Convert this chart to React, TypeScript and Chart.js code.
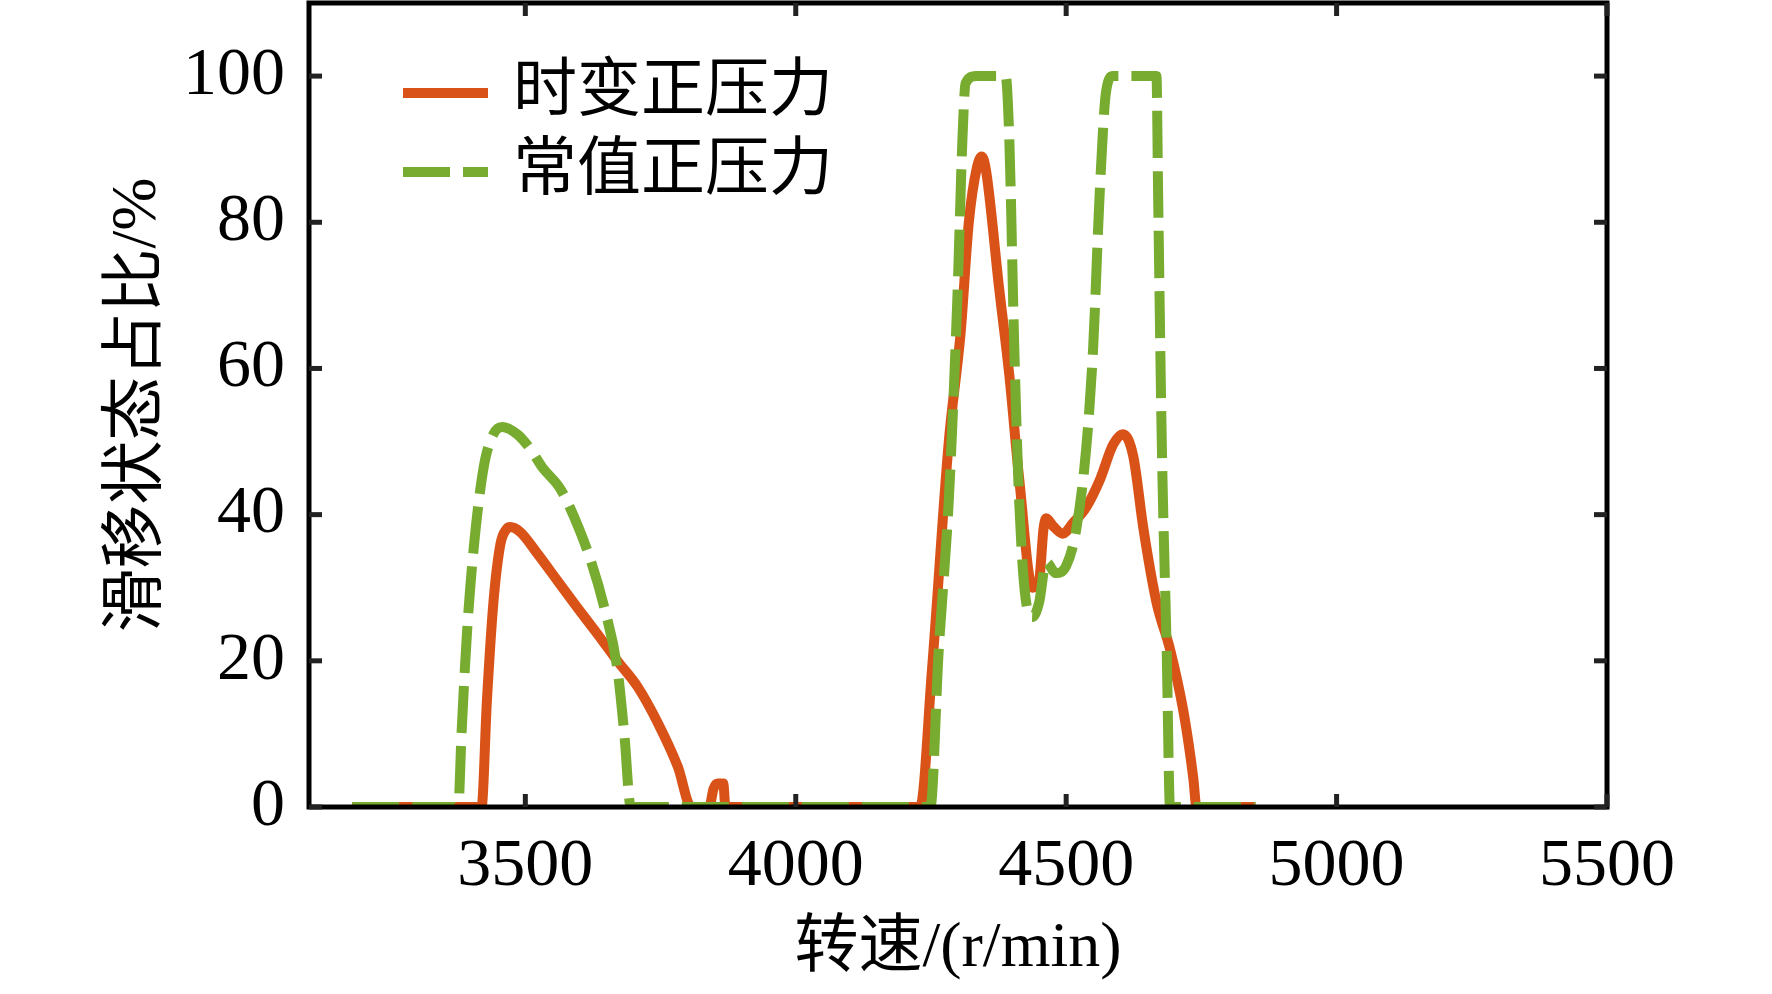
import React, { useEffect, useRef } from "react";
import { Chart, registerables } from "chart.js";

Chart.register(...registerables);

// 时变正压力
const speedVarying = [
  3180, 3419, 3429, 3441, 3454, 3465, 3472, 3491, 3522, 3559, 3596, 3633, 3670, 3708, 3745, 3782, 3807,
  3840, 3848, 3856, 3866, 3870, 4230, 4252, 4283, 4305, 4320, 4335, 4344, 4352, 4376, 4395, 4413, 4438,
  4450, 4458, 4463, 4475, 4494, 4512, 4537, 4562, 4587, 4605, 4624, 4643, 4667, 4692, 4717, 4735, 4741, 4850,
];
const ratioVarying = [
  0, 0, 14.6, 28, 36, 38, 38.3, 37.6, 34.7, 31, 27.3, 23.7, 20, 16.4, 11.5, 5.5, 0,
  0, 2.5, 3.2, 3.2, 0, 0, 18.9, 50, 65, 80, 87.5, 89, 87, 71, 59, 45, 30,
  31, 38, 39.5, 38.5, 37.4, 38.8, 41, 44.7, 49.6, 51, 48, 38, 28, 21.6, 13, 4, 0, 0,
];

// 常值正压力
const speedConstant = [
  3180, 3376, 3382, 3392, 3404, 3423, 3441, 3457, 3485, 3509, 3531, 3565, 3590, 3621, 3646, 3670, 3683, 3695,
  4249, 4264, 4283, 4299, 4308, 4314, 4333, 4388, 4395, 4404, 4413, 4426, 4438, 4450, 4463, 4481, 4500,
  4518, 4537, 4550, 4562, 4574, 4587, 4667, 4670, 4677, 4686, 4692, 4850,
];
const ratioConstant = [
  0, 0, 10, 23.7, 35, 46.5, 51, 52, 51, 49, 46.5, 43.5, 39.7, 33.7, 27.3, 19, 10, 0,
  0, 21, 42, 70, 91, 99, 100, 100, 91, 63, 42, 28, 26, 28, 33.5, 32, 33,
  37.7, 49, 63, 84, 98, 100, 100, 84, 49, 21, 0, 0,
];

const xTicks = [3500, 4000, 4500, 5000, 5500];
const yTicks = [0, 20, 40, 60, 80, 100];
const seriesNames = ["时变正压力", "常值正压力"];

const ORANGE = "#D95319";
const GREEN = "#77AC30";
const FONT = "'Liberation Serif', 'Noto Sans CJK SC', serif";

const framePlugin = {
  id: "frame",
  afterDatasetsDraw(chart: any) {
    const { ctx, chartArea: a, scales } = chart;
    const seg = (x1: number, y1: number, x2: number, y2: number) => {
      ctx.beginPath();
      ctx.moveTo(x1, y1);
      ctx.lineTo(x2, y2);
      ctx.stroke();
    };
    ctx.save();
    ctx.strokeStyle = "#000";
    ctx.lineWidth = 5;
    ctx.strokeRect(a.left, a.top, a.right - a.left, a.bottom - a.top);

    // inward ticks on all four sides
    ctx.strokeStyle = "#222";
    const t = 13;
    xTicks.forEach((v) => {
      const px = scales.x.getPixelForValue(v);
      seg(px, a.bottom, px, a.bottom - t);
      seg(px, a.top, px, a.top + t);
    });
    yTicks.forEach((v) => {
      const py = scales.y.getPixelForValue(v);
      seg(a.left, py, a.left + t, py);
      seg(a.right, py, a.right - t, py);
    });

    // legend in the upper left corner
    const x0 = a.left + 94;
    const x1 = a.left + 179;
    const rows = [a.top + 90, a.top + 169];
    ctx.lineWidth = 10;
    ctx.strokeStyle = ORANGE;
    seg(x0, rows[0], x1, rows[0]);
    ctx.strokeStyle = GREEN;
    ctx.setLineDash([47, 13]);
    seg(x0, rows[1], x1, rows[1]);
    ctx.setLineDash([]);
    ctx.fillStyle = "#000";
    ctx.font = `64px ${FONT}`;
    ctx.textBaseline = "middle";
    ctx.textAlign = "left";
    ctx.fillText(seriesNames[0], a.left + 204, rows[0]);
    ctx.fillText(seriesNames[1], a.left + 204, rows[1]);
    ctx.restore();
  },
};

const App = () => {
  const chartRef = useRef<HTMLCanvasElement>(null);

  useEffect(() => {
    document.body.style.margin = "0";
    const ctx = chartRef.current!.getContext("2d")!;
    const font = { family: FONT, size: 64 };
    const tickFont = { family: FONT, size: 68 };
    const myChart = new Chart(ctx, {
      type: "line",
      data: {
        datasets: [
          {
            label: seriesNames[0],
            data: speedVarying.map((x, i) => ({ x, y: ratioVarying[i] })),
            borderColor: ORANGE,
            borderWidth: 10,
            pointRadius: 0,
            cubicInterpolationMode: "monotone",
            order: 2,
          },
          {
            label: seriesNames[1],
            data: speedConstant.map((x, i) => ({ x, y: ratioConstant[i] })),
            borderColor: GREEN,
            borderWidth: 10,
            borderDash: [47, 13],
            pointRadius: 0,
            cubicInterpolationMode: "monotone",
            order: 1,
          },
        ],
      },
      options: {
        animation: false,
        responsive: false,
        layout: { padding: { left: 0, right: 165, top: 3, bottom: 0 } },
        plugins: {
          legend: { display: false },
          tooltip: { enabled: false },
        },
        scales: {
          x: {
            type: "linear",
            min: 3100,
            max: 5500,
            afterBuildTicks: (s: any) => {
              s.ticks = xTicks.map((v) => ({ value: v }));
            },
            afterFit: (s: any) => {
              s.height = 187;
              s.paddingLeft = 0;
              s.paddingRight = 0;
            },
            grid: { display: false, drawTicks: false },
            border: { display: false },
            ticks: {
              font: tickFont,
              color: "#000",
              padding: 19,
              maxRotation: 0,
              autoSkip: false,
              callback: (v: any) => String(v),
            },
            title: {
              display: true,
              text: "转速/(r/min)",
              font,
              color: "#000",
              padding: { top: 0, bottom: 6 },
            },
          },
          y: {
            min: 0,
            max: 110,
            afterBuildTicks: (s: any) => {
              s.ticks = yTicks.map((v) => ({ value: v }));
            },
            afterFit: (s: any) => {
              s.width = 309;
              s.paddingTop = 0;
              s.paddingBottom = 0;
            },
            grid: { display: false, drawTicks: false },
            border: { display: false },
            ticks: { font: tickFont, color: "#000", padding: 24, callback: (v: any) => String(v) },
            title: {
              display: true,
              text: "滑移状态占比/%",
              font,
              color: "#000",
              padding: { top: 100, bottom: 0 },
            },
          },
        },
      },
      plugins: [framePlugin],
    });

    return () => {
      myChart.destroy();
    };
  }, []);

  return (
    <div>
      <canvas ref={chartRef} width="1772" height="994" style={{ display: "block" }}></canvas>
    </div>
  );
};

export default App;
